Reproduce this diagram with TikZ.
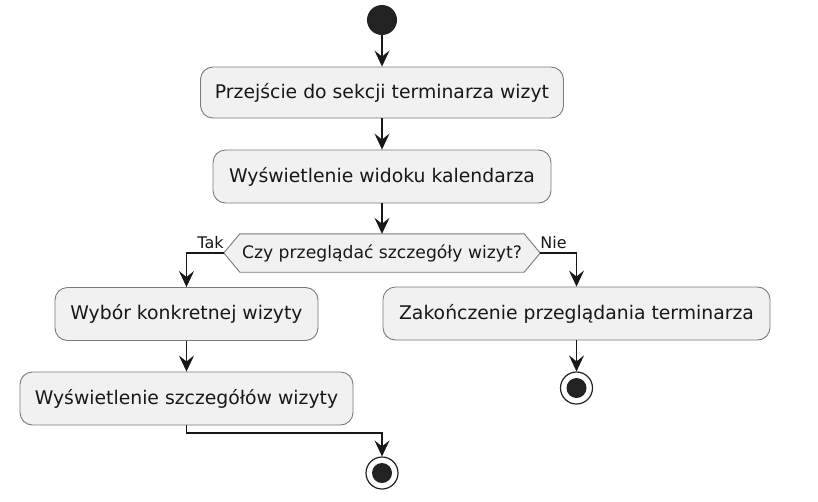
\documentclass[tikz,border=0pt]{standalone}
\usepackage{fontspec}
\setmainfont{DejaVu Sans}
\usetikzlibrary{arrows.meta,backgrounds}
\definecolor{pfill}{HTML}{F1F1F1}
\definecolor{pline}{HTML}{181818}
\definecolor{pborder}{HTML}{7A7A7A}
\definecolor{pdark}{HTML}{222222}
\begin{document}
\begin{tikzpicture}[x=1pt,y=-1pt,
  act/.style={draw=pborder, line width=0.9pt, fill=pfill, rounded corners=12.5pt,
    inner sep=0pt, text=pline, font=\fontsize{18.8}{22}\selectfont},
  decision/.style={inner sep=0pt, text=pline, font=\fontsize{17.2}{20}\selectfont,
    minimum width=284pt, minimum height=38pt},
  hexshape/.style={draw=pborder, line width=0.9pt, fill=pfill},
  arr/.style={draw=pline, line width=1.4pt, -{Stealth[length=16pt,width=15pt,inset=6pt]}},
  startnode/.style={circle, fill=pdark, minimum size=30pt, inner sep=0pt},
  endnode/.style={circle, draw=pdark, line width=1.2pt, fill=white, minimum size=32pt, inner sep=0pt,
    path picture={\fill[pdark] (path picture bounding box.center) circle (10pt);}},
  guard/.style={inner sep=0pt, text=pline, font=\fontsize{16}{19}\selectfont}
]
\useasboundingbox (0,0) rectangle (818,501);

\node[startnode] (s) at (382,20) {};
\node[act, minimum width=363pt, minimum height=51pt] (b1) at (382,92.5) {Przejście do sekcji terminarza wizyt};
\node[act, minimum width=338pt, minimum height=53pt] (b2) at (382,176.5) {Wyświetlenie widoku kalendarza};
\node[decision] (d) at (382,253) {Czy przeglądać szczegóły wizyt?};
\coordinate (dl) at ([xshift=-16pt]d.west);
\coordinate (dr) at ([xshift=16pt]d.east);
\node[act, minimum width=263pt, minimum height=53pt] (b3) at (186.5,314) {Wybór konkretnej wizyty};
\node[act, minimum width=333pt, minimum height=53pt] (b4) at (186.5,398.5) {Wyświetlenie szczegółów wizyty};
\node[act, minimum width=387pt, minimum height=53pt] (b5) at (576.5,313.5) {Zakończenie przeglądania terminarza};
\node[endnode] (e1) at (576.5,388) {};
\node[endnode] (e2) at (382,473) {};

\begin{scope}[on background layer]
  \fill[white] (0,0) rectangle (818,501);
  \draw[hexshape] (d.north west) -- (d.north east) -- (dr) -- (d.south east)
    -- (d.south west) -- (dl) -- cycle;
\end{scope}

\node[guard, anchor=base east] (tak) at ([yshift=5pt]dl) {Tak};
\node[guard, anchor=base west] (nie) at ([yshift=5pt]dr) {Nie};

\draw[arr] (s) -- (b1);
\draw[arr] (b1) -- (b2);
\draw[arr] (b2) -- (d);
\draw[arr] (dl) -| (b3.north);
\draw[arr] (dr) -| (b5.north);
\draw[arr] (b3) -- (b4);
\draw[arr] (b5) -- (e1);
\draw[arr] (b4.south) -- ++(0,7.5) -| (e2.north);
\end{tikzpicture}
\end{document}
